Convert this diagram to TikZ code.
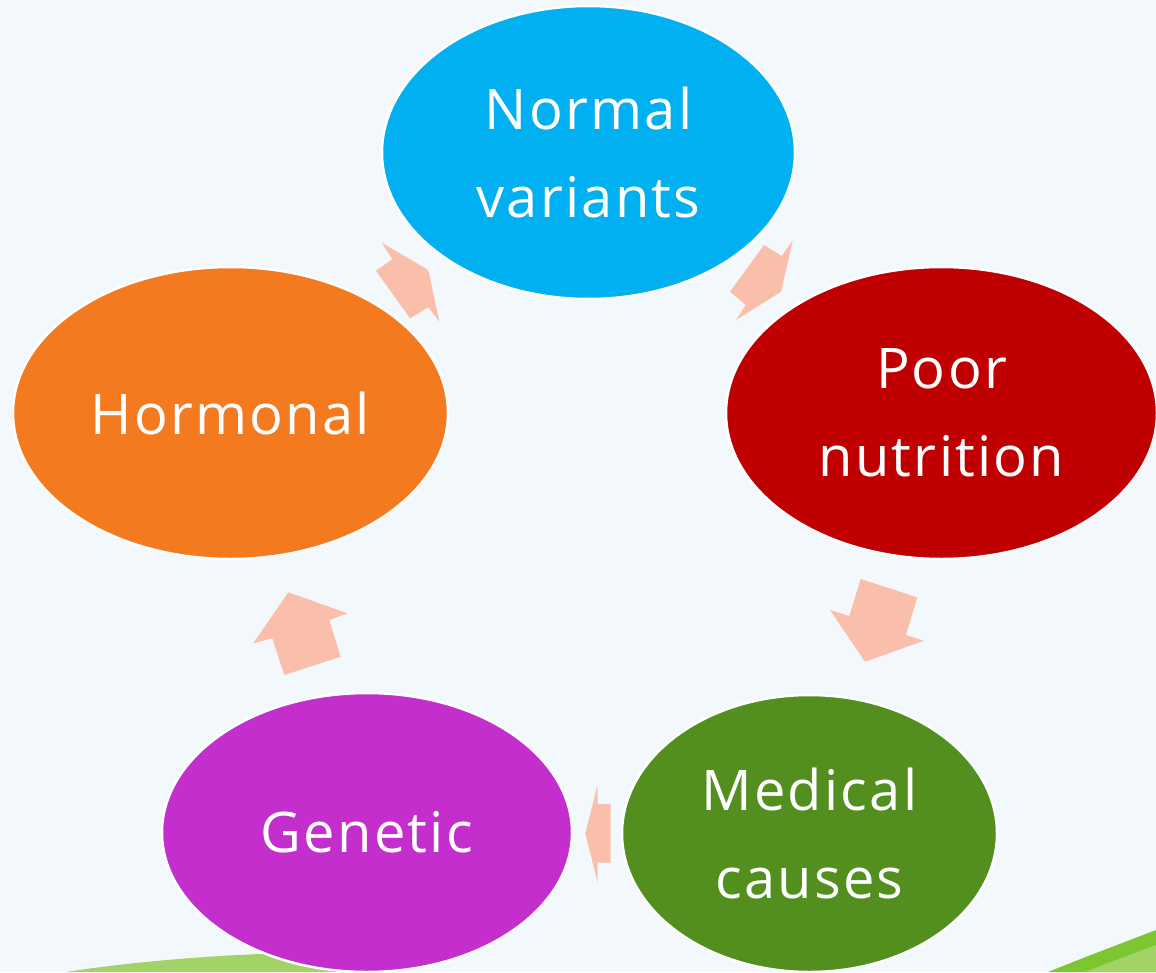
\documentclass[tikz,border=0pt]{standalone}
\usepackage{fontspec}
\setmainfont[LetterSpace=4]{Open Sans}
\usetikzlibrary{shapes.geometric}

\definecolor{bgcol}{HTML}{F3F8FC}
\definecolor{arrowcol}{HTML}{F9BFAB}
\definecolor{bluecol}{HTML}{00B0F0}
\definecolor{redcol}{HTML}{C00000}
\definecolor{orangecol}{HTML}{F47A1F}
\definecolor{greencol}{HTML}{528F1F}
\definecolor{purplecol}{HTML}{C42ECC}
\definecolor{grassdark}{HTML}{7CC631}
\definecolor{grasslight}{HTML}{A3D266}

\tikzset{
  bubble/.style={ellipse, draw=white, line width=2.5pt, inner sep=0pt,
    text=white, align=center,
    font=\fontsize{56}{88}\selectfont},
  cyclearrow/.style={fill=arrowcol, draw=none}
}

\begin{document}
\begin{tikzpicture}[x=1pt, y=-1pt]
  % canvas
  \fill[bgcol] (0,0) rectangle (1156,972);
  \useasboundingbox (0,0) rectangle (1156,972);

  % grass strips along the bottom edge
  \fill[grasslight] (66,972) .. controls (130,962) and (220,954) .. (300,953)
    .. controls (330,953) and (355,954) .. (370,955) -- (370,972) -- cycle;
  \fill[grassdark] (1048,972) .. controls (1090,955) and (1125,942) .. (1156,930)
    -- (1156,972) -- cycle;
  \fill[grasslight] (1085,972) .. controls (1110,962) and (1135,953) .. (1156,945)
    -- (1156,972) -- cycle;

  % the five causes
  \node[bubble, fill=bluecol, minimum width=413pt, minimum height=293pt]
    (normal) at (588.5,152.5) {Normal\\variants};
  \node[bubble, fill=redcol, minimum width=431pt, minimum height=292pt]
    (poor) at (941.5,413) {Poor\\nutrition};
  \node[bubble, fill=greencol, minimum width=375pt, minimum height=277pt]
    (medical) at (809.5,833.5) {Medical\\causes};
  \node[bubble, fill=purplecol, minimum width=410pt, minimum height=279pt]
    (genetic) at (367,832.5) {Genetic};
  \node[bubble, fill=orangecol, minimum width=435pt, minimum height=292pt]
    (hormonal) at (230.5,413) {Hormonal};

  % block arrows between neighbouring bubbles
  % hormonal -> normal
  \fill[cyclearrow] (376,270.7) -- (392.3,259.3) -- (381.7,242.7) -- (428.3,270)
    -- (439.3,321.7) -- (428.3,307.3) -- (410,318.3) -- cycle;
  % normal -> poor
  \fill[cyclearrow] (764,245) -- (781.7,256) -- (792.7,240.7) -- (781,291.7)
    -- (736,320) -- (745.7,305) -- (730,291.7) -- cycle;
  % poor -> medical
  \fill[cyclearrow] (917.3,597.3) -- (906,635) -- (924,640.7) -- (865,661.7)
    -- (830,610) -- (849.3,616) -- (860.7,579) -- cycle;
  % medical -> genetic
  \fill[cyclearrow] (610.7,804) -- (597.7,804) -- (597.7,785) -- (585.3,833.3)
    -- (597.7,882.7) -- (597.7,862.7) -- (610.7,862.7) -- cycle;
  % genetic -> hormonal
  \fill[cyclearrow] (340.7,656.7) -- (329.3,620) -- (347.3,613.3) -- (288.3,592.3)
    -- (253.3,643.3) -- (272.3,638.3) -- (284.3,675) -- cycle;
\end{tikzpicture}
\end{document}
